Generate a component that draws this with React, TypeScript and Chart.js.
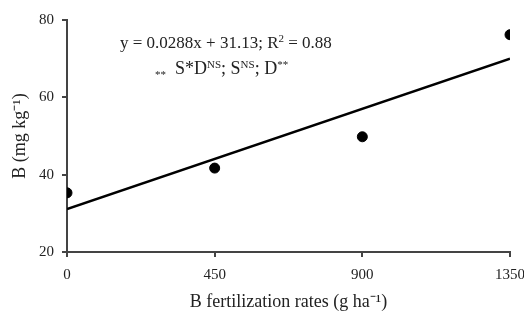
import React, { useEffect, useRef } from "react";
import { Chart, registerables } from "chart.js";

Chart.register(...registerables);

const rates = [0, 450, 900, 1350];
const boron = [35.3, 41.7, 49.8, 76.2];
const slope = 0.0288;
const intercept = 31.13;
const xTicks = [0, 450, 900, 1350];
const yTicks = [20, 40, 60, 80];
const xTitle = "B fertilization rates (g ha⁻¹)";
const yTitle = "B (mg kg⁻¹)";

type Seg = { t: string; m: "n" | "sup" | "sub" };
const eqLine: Seg[] = [
  { t: "y = 0.0288x + 31.13; R", m: "n" },
  { t: "2", m: "sup" },
  { t: " = 0.88", m: "n" },
];
const sigLine: Seg[] = [
  { t: "**", m: "sub" },
  { t: "  S*D", m: "n" },
  { t: "NS", m: "sup" },
  { t: "; S", m: "n" },
  { t: "NS", m: "sup" },
  { t: "; D", m: "n" },
  { t: "**", m: "sup" },
];

const FONT = "'Liberation Serif', 'Times New Roman', serif";
const TEXT = "#222";

function drawSegs(
  ctx: CanvasRenderingContext2D,
  segs: Seg[],
  x: number,
  y: number,
  size: number,
  supDy: number,
  subDy: number
) {
  let cx = x;
  ctx.save();
  ctx.fillStyle = TEXT;
  ctx.textBaseline = "alphabetic";
  ctx.textAlign = "left";
  for (const s of segs) {
    const fs = s.m === "n" ? size : Math.round(size * 0.62);
    ctx.font = `${fs}px ${FONT}`;
    const dy = s.m === "sup" ? supDy : s.m === "sub" ? subDy : 0;
    ctx.fillText(s.t, cx, y + dy);
    cx += ctx.measureText(s.t).width;
  }
  ctx.restore();
}

const annotationPlugin = {
  id: "eqText",
  afterDraw(chart: any) {
    const ctx = chart.ctx as CanvasRenderingContext2D;
    drawSegs(ctx, eqLine, 120, 48, 17, -6, 0);
    drawSegs(ctx, sigLine, 155, 74, 18, -6, 4);
  },
};

export default function App() {
  const ref = useRef<HTMLCanvasElement | null>(null);
  useEffect(() => {
    document.body.style.margin = "0";
    const canvas = ref.current!;
    const chart = new Chart(canvas, {
      type: "scatter",
      data: {
        datasets: [
          {
            type: "line",
            data: [
              { x: rates[0], y: intercept + slope * rates[0] },
              { x: rates[rates.length - 1], y: intercept + slope * rates[rates.length - 1] },
            ],
            borderColor: "#000",
            borderWidth: 2.5,
            pointRadius: 0,
            fill: false,
          } as any,
          {
            data: rates.map((r, i) => ({ x: r, y: boron[i] })),
            backgroundColor: "#000",
            borderColor: "#000",
            pointRadius: 5,
            pointHoverRadius: 5,
          },
        ],
      },
      options: {
        animation: false,
        responsive: false,
        events: [],
        layout: { padding: { top: 20, right: 0, left: 0, bottom: 0 } },
        plugins: { legend: { display: false }, tooltip: { enabled: false } },
        scales: {
          x: {
            type: "linear",
            min: 0,
            max: 1350,
            afterBuildTicks: (s: any) => {
              s.ticks = xTicks.map((v) => ({ value: v }));
            },
            afterFit: (s: any) => {
              s.height = 63;
              s.paddingRight = 14;
              s.paddingLeft = 0;
            },
            border: { color: "#444", width: 2 },
            grid: { drawOnChartArea: false, drawTicks: true, tickLength: 5, color: "#444", lineWidth: 2 },
            ticks: {
              color: TEXT,
              padding: 9,
              font: { family: FONT, size: 15 },
              callback: (v: any) => String(v),
            },
            title: {
              display: true,
              text: xTitle,
              color: TEXT,
              font: { family: FONT, size: 18 },
              padding: { top: 0, bottom: 2 },
            },
          },
          y: {
            type: "linear",
            min: 20,
            max: 80,
            afterBuildTicks: (s: any) => {
              s.ticks = yTicks.map((v) => ({ value: v }));
            },
            afterFit: (s: any) => {
              s.width = 67;
            },
            border: { color: "#444", width: 2 },
            grid: { drawOnChartArea: false, drawTicks: true, tickLength: 5, color: "#444", lineWidth: 2 },
            ticks: {
              color: TEXT,
              padding: 8,
              font: { family: FONT, size: 15 },
              callback: (v: any) => String(v),
            },
            title: {
              display: true,
              text: yTitle,
              color: TEXT,
              font: { family: FONT, size: 18 },
              padding: { top: 9, bottom: 0 },
            },
          },
        },
      },
      plugins: [annotationPlugin],
    } as any);
    return () => chart.destroy();
  }, []);
  return (
    <div style={{ width: 524, height: 315 }}>
      <canvas ref={ref} width={524} height={315} style={{ display: "block" }} />
    </div>
  );
}
